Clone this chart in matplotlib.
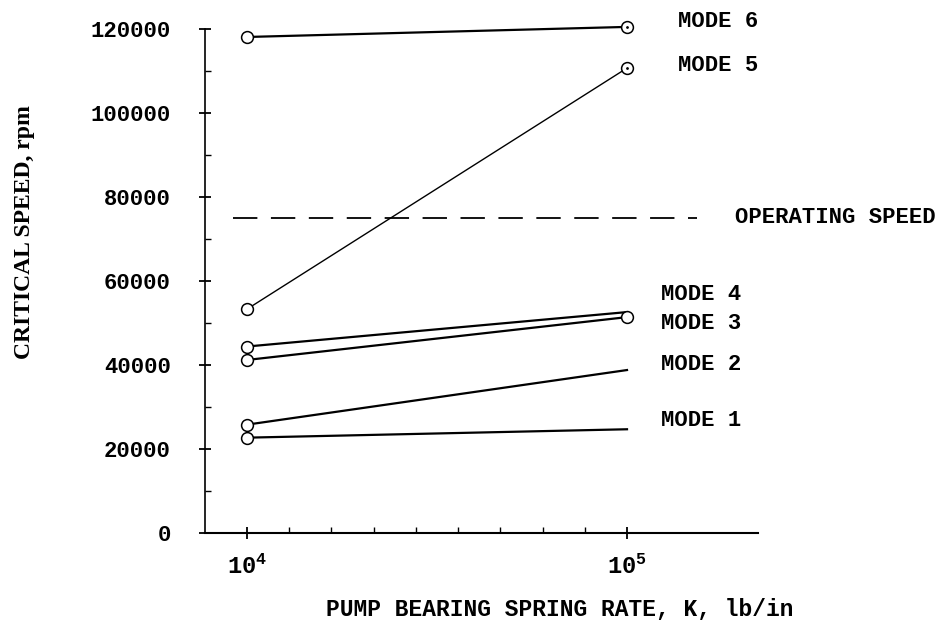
import matplotlib
matplotlib.use("Agg")
import matplotlib.pyplot as plt
import numpy as np

plt.rcParams['font.family'] = ['Liberation Mono', 'DejaVu Sans Mono']
plt.rcParams['font.weight'] = 'bold'
plt.rcParams['mathtext.fontset'] = 'custom'
plt.rcParams['mathtext.rm'] = 'Liberation Mono:bold'

# spring rate (lb/in) and critical speeds (rpm) for each mode
k_rate = [1e4, 1e5]
mode1 = [22700, 24700]
mode2 = [25800, 38800]
mode3 = [41200, 51400]
mode4 = [44400, 52600]
mode5 = [53300, 110700]
mode6 = [118100, 120500]

op_speed = 75000
op_span = [9200, 153000]

y_ticks = [0, 20000, 40000, 60000, 80000, 100000, 120000]
x_ticks = [1e4, 1e5]
x_ticklabels = [r'$\mathregular{10^4}$', r'$\mathregular{10^5}$']

fig = plt.figure(figsize=(9.49, 6.31), dpi=100)
ax = fig.add_axes([205 / 949, 98 / 631, 553 / 949, 504 / 631])

ax.set_xscale('log')
ax.set_xlim(10 ** 3.8895, 10 ** 5.3447)
ax.set_ylim(0, 120000)

lw = 1.6
ax.plot(k_rate, mode1, color='black', lw=lw, marker='o', ms=8.5, mfc='white',
        mec='black', mew=1.1, markevery=[0], clip_on=False)
ax.plot(k_rate, mode2, color='black', lw=lw, marker='o', ms=8.5, mfc='white',
        mec='black', mew=1.1, markevery=[0], clip_on=False)
ax.plot(k_rate, mode4, color='black', lw=lw, marker='o', ms=8.5, mfc='white',
        mec='black', mew=1.1, markevery=[0], clip_on=False)
ax.plot(k_rate, mode3, color='black', lw=lw, marker='o', ms=8.5, mfc='white',
        mec='black', mew=1.1, clip_on=False)
ax.plot(k_rate, mode5, color='black', lw=1.0, marker='o', ms=8.5, mfc='white',
        mec='black', mew=1.1, clip_on=False)
ax.plot(k_rate, mode6, color='black', lw=lw, marker='o', ms=8.5, mfc='white',
        mec='black', mew=1.1, clip_on=False)
# centre dots in the upper circles
ax.plot(k_rate[1:], [mode5[1]], 'k.', ms=2, clip_on=False)
ax.plot(k_rate[1:], [mode6[1]], 'k.', ms=2, clip_on=False)

ax.plot(op_span, [op_speed, op_speed], color='black', lw=1.3,
        dashes=(13.5, 7.5), clip_on=False)

txt = dict(fontsize=16, va='center', ha='left', clip_on=False)
ax.text(1.36e5, 121700, 'MODE 6', **txt)
ax.text(1.36e5, 111400, 'MODE 5', **txt)
ax.text(1.92e5, 75000, 'OPERATING SPEED', **txt)
ax.text(1.23e5, 56700, 'MODE 4', **txt)
ax.text(1.23e5, 49800, 'MODE 3', **txt)
ax.text(1.23e5, 40000, 'MODE 2', **txt)
ax.text(1.23e5, 26900, 'MODE 1', **txt)

for side in ['top', 'right']:
    ax.spines[side].set_visible(False)
ax.spines['left'].set_linewidth(1.2)
ax.spines['bottom'].set_linewidth(1.5)

ax.set_yticks(y_ticks)
ax.set_yticklabels([str(v) for v in y_ticks])
ax.set_yticks(np.arange(10000, 120000, 20000), minor=True)
ax.set_xticks(x_ticks)
ax.set_xticklabels(x_ticklabels)
ax.set_xticks([10 ** (4 + i / 9) for i in range(1, 9)], minor=True)
ax.xaxis.set_minor_formatter(plt.NullFormatter())

ax.tick_params(axis='y', which='major', direction='inout', length=9, width=1.3,
               pad=20, labelsize=16)
ax.tick_params(axis='y', which='minor', direction='in', length=4, width=1.0)
ax.tick_params(axis='x', which='major', direction='inout', length=9, width=1.3,
               pad=11, labelsize=17)
ax.tick_params(axis='x', which='minor', direction='in', length=4, width=1.0)

fig.text(560 / 949, 1 - 610 / 631, 'PUMP BEARING SPRING RATE, K, lb/in',
         fontsize=16.5, ha='center', va='center')
fig.text(25 / 949, 1 - 232 / 631, 'CRITICAL SPEED, rpm', rotation=90,
         family='Liberation Serif', fontsize=17, ha='center', va='center')

fig.savefig('out.png', dpi=100)
